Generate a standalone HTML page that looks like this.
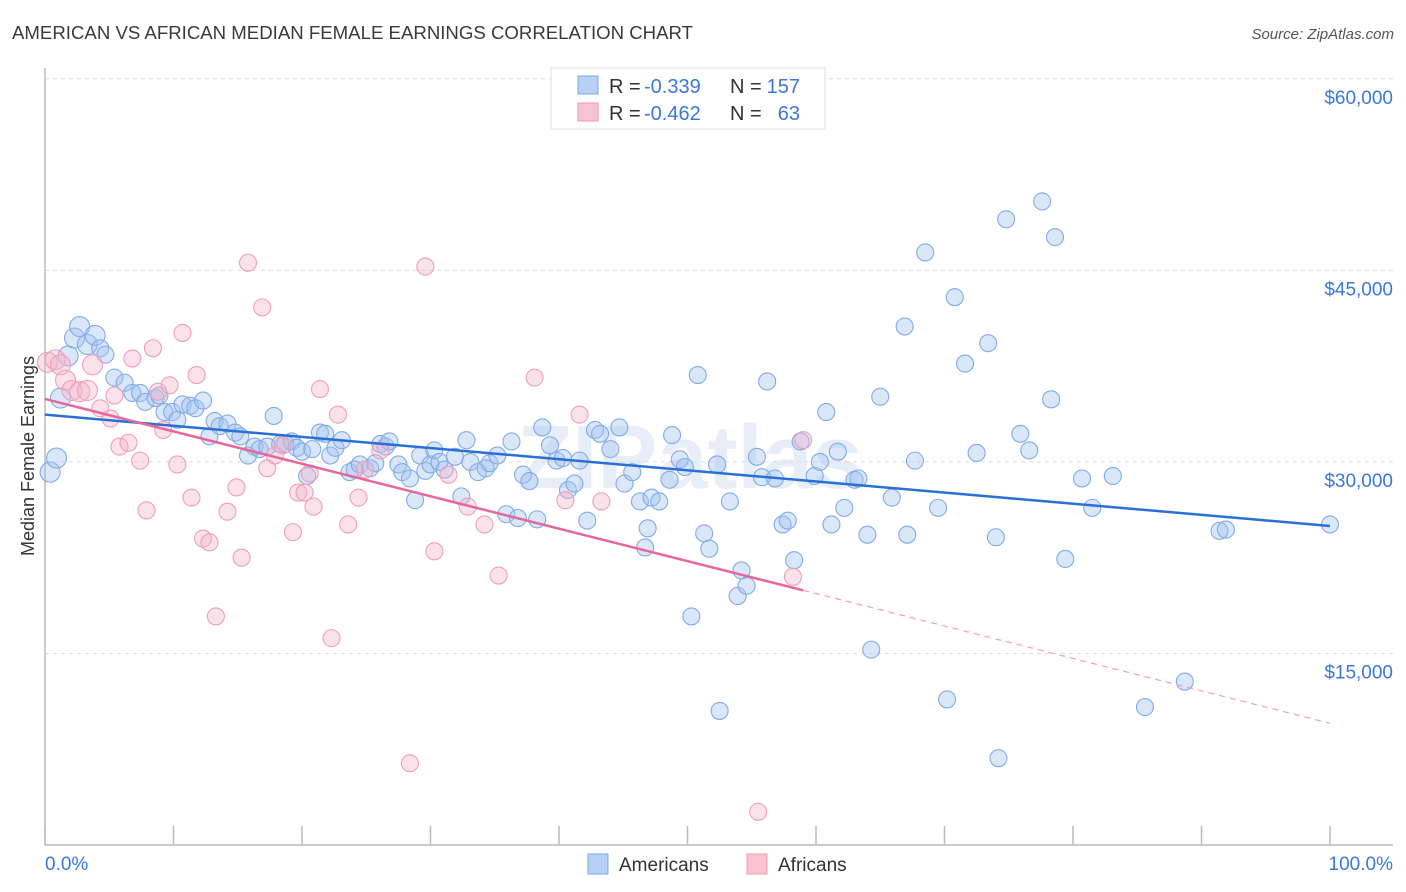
<!DOCTYPE html>
<html><head><meta charset="utf-8"><style>
body{margin:0;background:#fff;font-family:"Liberation Sans",sans-serif;}
svg{display:block}
</style></head><body>
<svg id="chart" width="1406" height="892" xmlns="http://www.w3.org/2000/svg">
<text x="12" y="39" font-size="18" fill="#3a3a3a" textLength="681" lengthAdjust="spacingAndGlyphs">AMERICAN VS AFRICAN MEDIAN FEMALE EARNINGS CORRELATION CHART</text>
<text x="1394" y="39" font-size="15" fill="#555" font-style="italic" text-anchor="end">Source: ZipAtlas.com</text>
<text x="690" y="488" font-size="90" fill="#e8eef8" font-weight="bold" text-anchor="middle">ZIPatlas</text>
<g id="grid"></g>
<g id="axes"></g>
<g id="pts"></g>
<g id="trend"></g>
<text transform="translate(34,456) rotate(-90)" font-size="18" fill="#333" text-anchor="middle">Median Female Earnings</text>
<g>
<rect x="551" y="68" width="274" height="61" fill="#fff" stroke="#ddd"/>
<rect x="578" y="76" width="20" height="18" fill="#b7d0f3" stroke="#7fa7e3"/>
<text x="609" y="93" font-size="20" fill="#333">R =</text>
<text x="644" y="93" font-size="20" fill="#3b78d8">-0.339</text>
<text x="730" y="93" font-size="20" fill="#333">N =</text>
<text x="800" y="93" font-size="20" fill="#3b78d8" text-anchor="end">157</text>
<rect x="578" y="103" width="20" height="18" fill="#f7c3d3" stroke="#ec9ab5"/>
<text x="609" y="120" font-size="20" fill="#333">R =</text>
<text x="644" y="120" font-size="20" fill="#3b78d8">-0.462</text>
<text x="730" y="120" font-size="20" fill="#333">N =</text>
<text x="800" y="120" font-size="20" fill="#3b78d8" text-anchor="end">63</text>
</g>
<g>
<rect x="588" y="854" width="20" height="20" fill="#b7d0f3" stroke="#7fa7e3"/>
<text x="619" y="871" font-size="19" fill="#333">Americans</text></g>
<g>
<rect x="747" y="854" width="20" height="20" fill="#f7c3d3" stroke="#ec9ab5"/>
<text x="778" y="871" font-size="19" fill="#333">Africans</text></g>
</svg>
<script>
const blueX=[0.4,0.9,1.2,1.8,2.3,2.7,3.3,3.9,4.3,4.7,5.4,6.2,6.8,7.4,7.8,8.6,8.9,9.3,9.9,10.3,10.7,11.3,11.7,12.3,12.8,13.2,13.6,14.2,14.8,15.2,15.8,16.3,16.7,17.3,17.8,18.3,18.7,19.2,19.6,20.0,20.4,20.8,21.4,21.8,22.2,22.6,23.1,23.7,24.1,24.5,25.3,25.7,26.1,26.5,26.8,27.5,27.8,28.4,28.8,29.2,29.6,30.0,30.3,30.7,31.1,31.9,32.4,32.8,33.1,33.7,34.3,34.6,35.2,35.9,36.3,36.8,37.2,37.7,38.3,38.7,39.3,39.8,40.3,40.7,41.2,41.6,42.2,42.8,43.2,44.0,44.7,45.1,45.7,46.3,46.7,46.9,47.2,47.8,48.6,48.8,49.4,49.8,50.3,50.8,51.3,51.7,52.3,52.5,53.3,53.9,54.2,54.6,55.4,55.8,56.2,56.8,57.4,57.8,58.3,58.8,59.9,60.3,60.8,61.2,61.7,62.2,63.0,63.3,64.0,64.3,65.0,65.9,66.9,67.1,67.7,68.5,69.5,70.2,70.8,71.6,72.5,73.4,74.0,74.2,74.8,75.9,76.6,77.6,78.3,78.6,79.4,80.7,81.5,83.1,85.6,88.7,91.4,91.9,100];
const blueY=[29.2,30.3,35.0,38.3,39.7,40.6,39.2,39.9,38.9,38.4,36.6,36.2,35.4,35.4,34.7,35.0,35.2,33.9,33.9,33.3,34.5,34.4,34.2,34.8,32.0,33.2,32.8,33.0,32.3,32.0,30.5,31.2,31.0,31.2,33.6,31.4,31.4,31.6,31.1,30.8,28.9,31.0,32.3,32.2,30.5,31.1,31.7,29.2,29.4,29.8,29.5,29.9,31.4,31.2,31.6,29.8,29.2,28.7,27.0,30.5,29.3,29.8,30.9,30.0,29.4,30.4,27.3,31.7,30.0,29.2,29.5,29.9,30.5,25.9,31.6,25.6,29.0,28.5,25.5,32.7,31.3,30.1,30.3,27.8,28.3,30.1,25.4,32.5,32.2,31.0,32.7,28.3,29.2,26.9,23.3,24.8,27.2,26.9,28.6,32.1,30.2,29.6,17.9,36.8,24.4,23.2,29.8,10.5,26.9,19.5,21.5,20.3,30.4,28.8,36.3,28.7,25.1,25.4,22.3,31.6,28.9,30.0,33.9,25.1,30.8,26.4,28.6,28.7,24.3,15.3,35.1,27.2,40.6,24.3,30.1,46.4,26.4,11.4,42.9,37.7,30.7,39.3,24.1,6.8,49.0,32.2,30.9,50.4,34.9,47.6,22.4,28.7,26.4,28.9,10.8,12.8,24.6,24.7,25.1];
const pinkX=[0.2,0.8,1.2,1.6,2.1,2.7,3.3,3.7,4.3,5.1,5.4,5.8,6.5,6.8,7.4,7.9,8.4,8.8,9.2,9.7,10.3,10.7,11.4,11.8,12.3,12.8,13.3,14.2,14.9,15.3,15.8,16.9,17.3,17.9,18.5,19.3,19.7,20.2,20.6,20.9,21.4,22.3,22.8,23.6,24.4,24.9,26.1,28.4,29.6,30.3,31.4,32.9,34.2,35.3,38.1,40.5,41.6,43.3,55.5,58.2,59.0];
const pinkY=[37.8,38.0,37.6,36.4,35.6,35.5,35.6,37.6,34.2,33.4,35.2,31.2,31.5,38.1,30.1,26.2,38.9,35.5,32.5,36.0,29.8,40.1,27.2,36.8,24.0,23.7,17.9,26.1,28.0,22.5,45.6,42.1,29.5,30.5,31.3,24.5,27.6,27.6,29.1,26.5,35.7,16.2,33.7,25.1,27.2,29.4,30.9,6.4,45.3,23.0,29.0,26.5,25.1,21.1,36.6,27.0,33.7,26.9,2.6,21.0,31.7];
const yTicks=[15000,30000,45000,60000];
const yTickLabels=["$15,000","$30,000","$45,000","$60,000"];
const xTicks=[0,10,20,30,40,50,60,70,80,90,100];
const NS="http://www.w3.org/2000/svg";
const X=v=>45+v*12.85;
const Y=v=>845-v/1000*12.77;
function mk(tag,attrs,parent){const e=document.createElementNS(NS,tag);for(const k in attrs)e.setAttribute(k,attrs[k]);parent.appendChild(e);return e;}
const grid=document.getElementById('grid'),axes=document.getElementById('axes');
yTicks.forEach((t,i)=>{
 const l=mk('line',{x1:45,x2:1393,y1:Y(t),y2:Y(t),stroke:'#dcdcdc','stroke-dasharray':'4,4'},grid);
 
 
 const tx=mk('text',{x:1393,y:Y(t)+25,'font-size':19,fill:'#3b78d8','text-anchor':'end'},axes);
 tx.textContent=yTickLabels[i];
 
 
});
mk('line',{x1:45,x2:45,y1:68,y2:845,stroke:'#bbb','stroke-width':1.5},axes);
mk('line',{x1:45,x2:1393,y1:845,y2:845,stroke:'#bbb','stroke-width':1.5},axes);
xTicks.forEach(t=>{const l=mk('line',{x1:X(t),x2:X(t),y1:826,y2:845,stroke:'#bbb','stroke-width':1.5},axes);
 
 });
const x0=mk('text',{x:45,y:870,'font-size':19,fill:'#3b78d8'},axes);x0.textContent='0.0%';


const x1=mk('text',{x:1393,y:870,'font-size':19,fill:'#3b78d8','text-anchor':'end'},axes);x1.textContent='100.0%';


const pts=document.getElementById('pts');
function draw(xs,ys,fill,stroke,name){xs.forEach((x,i)=>{
 const r=x<4?10:8.5;
 const c=mk('circle',{cx:X(x),cy:Y(ys[i]*1000),r:r,fill:fill,stroke:stroke,'stroke-width':1.1},pts);
 
 });}
draw(blueX,blueY,'rgba(160,195,240,0.4)','#82abe6','american-point');
draw(pinkX,pinkY,'rgba(246,180,202,0.4)','#ee9fba','african-point');
function fit(xs,ys){const n=xs.length;let sx=0,sy=0,sxx=0,sxy=0;for(let i=0;i<n;i++){sx+=xs[i];sy+=ys[i];sxx+=xs[i]*xs[i];sxy+=xs[i]*ys[i];}
 const b=(n*sxy-sx*sy)/(n*sxx-sx*sx);return [(sy-b*sx)/n,b];}
const tr=document.getElementById('trend');
const [ab,bb]=fit(blueX,blueY);
const bl=mk('line',{x1:X(0),y1:Y(ab*1000),x2:X(100),y2:Y((ab+bb*100)*1000),stroke:'#2a6fd6','stroke-width':2.5},tr);


const [ap,bp]=fit(pinkX,pinkY);const pm=Math.max(...pinkX);
const pl=mk('line',{x1:X(0),y1:Y(ap*1000),x2:X(pm),y2:Y((ap+bp*pm)*1000),stroke:'#e8679a','stroke-width':2.5},tr);


const pd=mk('line',{x1:X(pm),y1:Y((ap+bp*pm)*1000),x2:X(100),y2:Y((ap+bp*100)*1000),stroke:'#eea0bd','stroke-width':1.2,'stroke-dasharray':'6,5'},tr);


</script>
</body></html>
